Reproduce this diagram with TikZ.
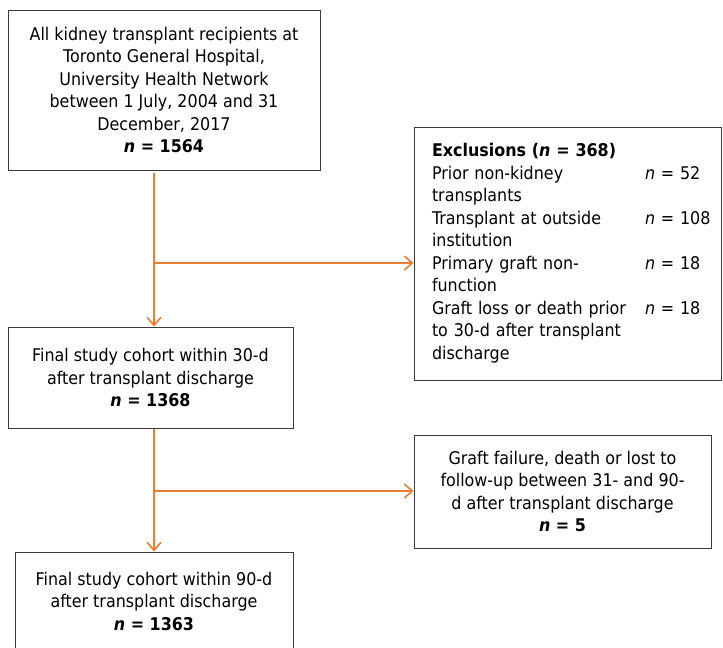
\documentclass[tikz,border=0pt]{standalone}
\usepackage{fontspec}
\setmainfont{DejaVu Sans}[FakeStretch=0.91]
\usetikzlibrary{arrows.meta}

\definecolor{flow}{RGB}{237,125,49}
\definecolor{frame}{RGB}{60,60,60}

\tikzset{
  box/.style={draw=frame, line width=1pt, align=center, inner sep=0pt,
    font=\fontsize{17.5}{22.5}\selectfont},
  flowline/.style={draw=flow, line width=1.6pt,
    -{Straight Barb[length=8pt,width=14pt,line width=1.6pt]}}
}

\begin{document}
\begin{tikzpicture}[x=1pt,y=-1pt]

  % Keep the page at the size of the reference
  \useasboundingbox (0,0) rectangle (723,648);

  % Boxes of the main column
  \node[box, minimum width=312pt, minimum height=160pt] (all) at (164,90)
    {All kidney transplant recipients at\\ Toronto General Hospital,\\
     University Health Network\\ between 1 July, 2004 and 31\\
     December, 2017\\ \textbf{\textit{n} = 1564}};
  \node[box, minimum width=285pt, minimum height=101pt] (cohort30) at (150.5,377.5)
    {Final study cohort within 30-d\\ after transplant discharge\\
     \textbf{\textit{n} = 1368}};
  \node[box, minimum width=278pt, minimum height=98pt] (cohort90) at (154,601)
    {Final study cohort within 90-d\\ after transplant discharge\\
     \textbf{\textit{n} = 1363}};

  % Boxes of the patients left out
  \node[box, minimum width=307pt, minimum height=253pt, inner xsep=18pt,
        text width=271pt, align=left] (excl) at (567.5,253.5)
    {\begin{tabular}{@{}p{213pt}@{}l@{}}
       \multicolumn{2}{@{}l@{}}{\textbf{Exclusions (\textit{n} = 368)}}\\
       Prior non-kidney & \textit{n} = 52\\
       transplants & \\
       Transplant at outside & \textit{n} = 108\\
       institution & \\
       Primary graft non- & \textit{n} = 18\\
       function & \\
       Graft loss or death prior & \textit{n} = 18\\
       to 30-d after transplant & \\
       discharge &
     \end{tabular}};
  \node[box, minimum width=297pt, minimum height=113pt] (lost) at (562.5,491.5)
    {Graft failure, death or lost to\\ follow-up between 31- and 90-\\
     d after transplant discharge\\ \textbf{\textit{n} = 5}};

  % Trunk and side branches
  \coordinate (split1) at (154,263);
  \coordinate (split2) at (154,491);
  \draw[flowline, shorten <=2pt] (all.south -| split1) -- (cohort30.north -| split1);
  \draw[flowline] (split1) -- (split1 -| excl.west);
  \draw[flowline] (cohort30.south -| split2) -- (cohort90.north -| split2);
  \draw[flowline] (split2) -- (split2 -| lost.west);

\end{tikzpicture}
\end{document}
